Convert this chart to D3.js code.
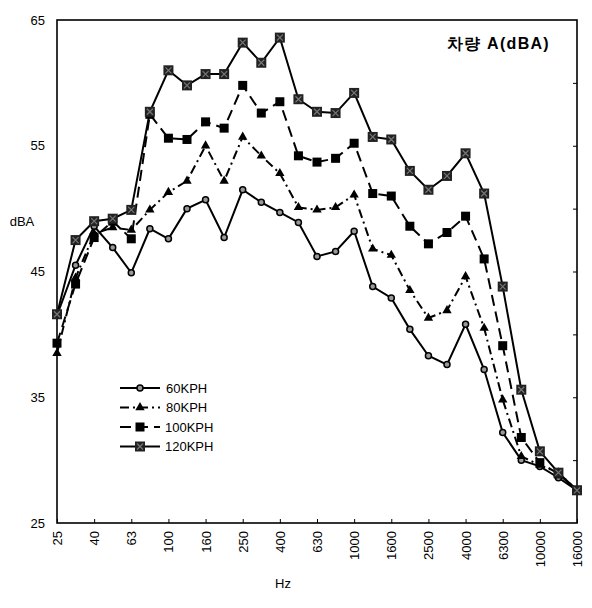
<!DOCTYPE html>
<html><head><meta charset="utf-8">
<script src="https://cdn.jsdelivr.net/npm/d3@7"></script>
<style>body{margin:0;background:#fff;} text{font-family:"Liberation Sans",Arial,sans-serif;}</style>
</head><body>
<svg id="c" width="592" height="608"></svg>
<script>
const categories = ["25","31.5","40","50","63","80","100","125","160","200","250","315","400","500","630","800","1000","1250","1600","2000","2500","3150","4000","5000","6300","8000","10000","12500","16000"];
const xTickLabels = ["25","40","63","100","160","250","400","630","1000","1600","2500","4000","6300","10000","16000"];
const yTicks = [25,35,45,55,65];
const seriesNames = ["60KPH","80KPH","100KPH","120KPH"];
const kph60  = [41.5,45.5,48.6,46.9,44.9,48.4,47.6,50.0,50.7,47.7,51.5,50.5,49.7,48.9,46.2,46.6,48.2,43.8,42.9,40.4,38.3,37.6,40.8,37.2,32.2,30.0,29.5,28.6,27.6];
const kph80  = [38.5,44.5,48.0,48.5,48.3,49.9,51.3,52.2,55.0,52.2,55.7,54.2,52.8,50.1,49.9,50.1,51.1,46.8,46.3,43.5,41.3,41.9,44.6,40.5,34.8,30.3,29.6,29.0,27.6];
const kph100 = [39.3,44.0,47.7,49.0,47.6,57.5,55.6,55.5,56.9,56.4,59.8,57.6,58.5,54.2,53.7,54.0,55.2,51.2,51.0,48.6,47.2,48.1,49.4,46.0,39.1,31.8,29.8,28.9,27.6];
const kph120 = [41.6,47.5,49.0,49.2,49.9,57.7,61.0,59.8,60.7,60.7,63.2,61.6,63.6,58.7,57.7,57.6,59.2,55.7,55.5,53.0,51.5,52.6,54.4,51.2,43.8,35.6,30.7,29.0,27.6];
const allSeries = [kph60, kph80, kph100, kph120];

const svg = d3.select("#c");
const L=57, R=577, T=20, B=523;
const x = d3.scalePoint().domain(categories).range([L,R]);
const y = d3.scaleLinear().domain([25,65]).range([B,T]);

svg.append("rect").attr("x",L).attr("y",T).attr("width",R-L).attr("height",B-T)
  .attr("fill","none").attr("stroke","#000").attr("stroke-width",1.6);

svg.append("g").attr("transform",`translate(${R},0)`)
  .call(d3.axisRight(y).tickValues([30,35,40,45,50,55,60]).tickSize(-4).tickFormat(""))
  .call(g=>g.select(".domain").remove());
svg.append("g").attr("transform",`translate(0,${B})`)
  .call(d3.axisBottom(x).tickValues(xTickLabels).tickSize(-4).tickFormat(""))
  .call(g=>g.select(".domain").remove());

svg.append("g").attr("transform",`translate(${L},0)`)
  .call(d3.axisLeft(y).tickValues(yTicks).tickSize(0).tickPadding(12).tickFormat(d3.format("d")))
  .call(g=>g.select(".domain").remove())
  .call(g=>g.selectAll("text").attr("font-size",13).attr("fill","#000").attr("font-family","Liberation Sans, Arial, sans-serif"));

svg.append("g").attr("transform",`translate(0,${B})`)
  .call(d3.axisBottom(x).tickValues(xTickLabels).tickSize(0).tickPadding(0))
  .call(g=>g.select(".domain").remove())
  .call(g=>g.selectAll("text").attr("font-size",13).attr("fill","#000")
     .attr("font-family","Liberation Sans, Arial, sans-serif")
     .attr("transform","rotate(-90)").attr("text-anchor","end")
     .attr("x",-8).attr("y",0).attr("dy","0.35em"));

svg.append("text").attr("x",22).attr("y",226).attr("text-anchor","middle").attr("font-size",13).text("dBA");
svg.append("text").attr("x",283).attr("y",588).attr("text-anchor","middle").attr("font-size",13).text("Hz");
svg.append("text").attr("x",550).attr("y",49).attr("text-anchor","end").attr("font-size",16)
  .attr("font-weight","bold").attr("letter-spacing",1.3).attr("font-family","Noto Sans CJK KR, sans-serif").text("차량 A(dBA)");

const dashes = [null,"9,4,2,4","11,6",null];
const line = d3.line().x((d,i)=>x(categories[i])).y(d=>y(d));

function drawMarker(g, s, cx, cy){
  if(s===0){
    g.append("circle").attr("cx",cx).attr("cy",cy).attr("r",3).attr("fill","#999").attr("stroke","#000").attr("stroke-width",1.5);
  } else if(s===1){
    g.append("path").attr("d",d3.symbol(d3.symbolTriangle,38)()).attr("transform",`translate(${cx},${cy})`).attr("fill","#000");
  } else if(s===2){
    g.append("rect").attr("x",cx-4.5).attr("y",cy-4.5).attr("width",9).attr("height",9).attr("fill","#000");
  } else {
    g.append("rect").attr("x",cx-5).attr("y",cy-5).attr("width",10).attr("height",10).attr("fill","#222");
    g.append("path").attr("d",`M${cx-3},${cy-3}L${cx+3},${cy+3}M${cx+3},${cy-3}L${cx-3},${cy+3}`).attr("stroke","#777").attr("stroke-width",1.2);
  }
}

allSeries.forEach((vals,s)=>{
  const g = svg.append("g");
  g.append("path").datum(vals).attr("d",line).attr("fill","none").attr("stroke","#000")
    .attr("stroke-width",2).attr("stroke-dasharray",dashes[s]);
  vals.forEach((v,i)=>drawMarker(g,s,x(categories[i]),y(v)));
});

const lg = svg.append("g");
seriesNames.forEach((n,s)=>{
  const yy = 388 + s*19.5;
  lg.append("line").attr("x1",120).attr("x2",160).attr("y1",yy).attr("y2",yy).attr("stroke","#000")
    .attr("stroke-width",2).attr("stroke-dasharray",dashes[s]);
  drawMarker(lg,s,140,yy);
  lg.append("text").attr("x",s>=2?165:166).attr("y",yy).attr("dy","0.35em").attr("font-size",13).text(n);
});
</script>
</body></html>
